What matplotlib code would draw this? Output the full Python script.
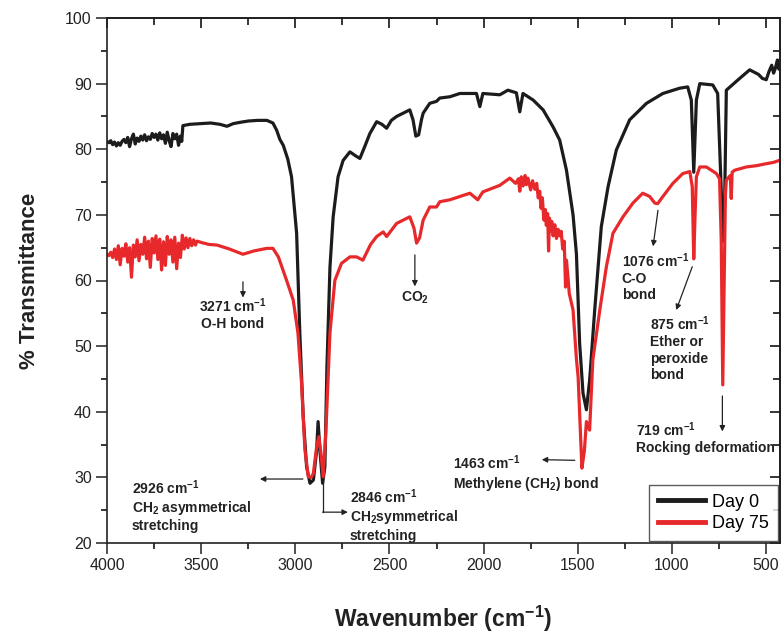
import matplotlib
matplotlib.use("Agg")
import matplotlib.pyplot as plt
from matplotlib.ticker import MultipleLocator

plt.rcParams['font.family'] = ['Liberation Sans', 'DejaVu Sans']
plt.rcParams['mathtext.fontset'] = 'custom'
plt.rcParams['mathtext.rm'] = 'Liberation Sans'
plt.rcParams['mathtext.it'] = 'Liberation Sans:italic'
plt.rcParams['mathtext.bf'] = 'Liberation Sans:bold'
plt.rcParams['mathtext.default'] = 'regular'

# ---------------- data ----------------
wn_day0 = [4000, 3990, 3980, 3970, 3960, 3950, 3940, 3930, 3920, 3910, 3900, 3890,
           3880, 3870, 3860, 3850, 3840, 3830, 3820, 3810, 3800, 3790, 3780, 3770,
           3760, 3750, 3740, 3730, 3720, 3710, 3700, 3690, 3680, 3670, 3660, 3650,
           3640, 3630, 3620, 3610, 3603, 3597, 3560, 3500,
           3450, 3400, 3363, 3330, 3294, 3250, 3200, 3151, 3119, 3099, 3082, 3064,
           3040, 3020, 2993, 2976, 2958, 2940, 2922, 2904, 2887, 2879, 2869, 2855,
           2843, 2832, 2816, 2799, 2773, 2746, 2710, 2680, 2657, 2630, 2604, 2568,
           2540, 2515, 2490, 2462, 2420, 2392, 2375, 2360, 2345, 2330, 2321, 2286,
           2250, 2233, 2179, 2126, 2038, 2020, 2004, 1914, 1871, 1826, 1808, 1791,
           1737, 1684, 1631, 1596, 1560, 1525, 1507, 1490, 1472, 1454, 1437, 1410,
           1375, 1339, 1295, 1224, 1135, 1048, 959, 916, 897, 884, 870, 852, 783,
           757, 737, 728, 720, 711, 640, 587, 540, 520, 499, 485, 470, 460, 450,
           440, 432, 426]
t_day0 = [81.2, 81.0, 81.3, 80.7, 81.1, 80.5, 81.0, 80.6, 81.2, 81.5, 81.0, 81.8,
          80.4, 81.6, 82.3, 80.8, 81.7, 81.2, 82.0, 81.4, 82.2, 81.3, 81.9, 81.5,
          82.4, 81.8, 82.3, 81.4, 82.5, 81.6, 82.2, 80.9, 82.6, 81.3, 80.4, 82.4,
          81.6, 82.3, 80.6, 82.0, 81.2, 83.6, 83.8, 83.9,
          84.0, 83.8, 83.5, 83.9, 84.1, 84.3, 84.4, 84.4, 84.0, 82.9, 81.5, 80.6,
          78.5, 75.8, 67.2, 52.0, 39.2, 31.6, 29.1, 29.6, 34.0, 38.5, 34.0, 29.1,
          31.6, 46.9, 62.0, 69.7, 75.8, 78.3, 79.6, 79.0, 78.6, 80.5, 82.4, 84.2,
          83.8, 83.2, 84.4, 85.0, 85.6, 86.0, 84.5, 82.0, 82.2, 84.5, 85.5, 87.0,
          87.3, 87.8, 88.0, 88.5, 88.5, 86.5, 88.5, 88.3, 89.0, 88.6, 85.7, 88.5,
          87.5, 86.0, 83.4, 81.4, 76.8, 70.0, 64.0, 50.4, 42.8, 40.3, 44.8, 55.5,
          68.2, 74.3, 79.9, 84.5, 87.0, 88.5, 89.3, 89.5, 87.5, 76.5, 87.5, 90.0, 89.8,
          88.5, 73.0, 66.0, 72.0, 89.0, 90.8, 92.1, 91.4, 90.8, 90.6, 91.8, 92.8, 91.6, 92.4,
          93.6, 92.2, 93.4]

wn_day75 = [4000, 3990, 3980, 3970, 3960, 3950, 3940, 3930, 3920, 3910, 3900, 3890,
            3880, 3870, 3860, 3850, 3840, 3830, 3820, 3810, 3800, 3790, 3780, 3770,
            3760, 3750, 3740, 3730, 3720, 3710, 3700, 3690, 3680, 3670, 3660, 3650,
            3640, 3630, 3620, 3610, 3600, 3590, 3580, 3570, 3560, 3550, 3540, 3530,
            3522, 3500,
            3460, 3416, 3350, 3278, 3220, 3151, 3119, 3090, 3046, 3011, 2986, 2967,
            2949, 2931, 2915, 2904, 2887, 2875, 2864, 2852, 2838, 2816, 2790, 2755,
            2710, 2675, 2641, 2600, 2568, 2533, 2515, 2462, 2392, 2370, 2356, 2340,
            2321, 2286, 2250, 2233, 2179, 2126, 2073, 2031, 2004, 1914, 1861, 1830,
            1815, 1808, 1800, 1790, 1780, 1773, 1765, 1750, 1740, 1728, 1718, 1710,
            1702, 1695, 1688, 1680, 1672, 1667, 1660, 1655, 1650, 1645, 1638, 1631,
            1622, 1613, 1605, 1596, 1588, 1580, 1572, 1565, 1560, 1552, 1545, 1525,
            1507, 1498, 1485, 1478,
            1465, 1454, 1437, 1420, 1383, 1348, 1313, 1260, 1207, 1155, 1118, 1091,
            1076, 1048, 995, 942, 905, 892, 884, 877, 870, 852, 817, 764, 747, 738,
            730, 722, 716, 711, 690, 685, 680, 667, 605, 550, 499, 460, 420]
t_day75 = [64.0, 63.8, 64.3, 63.5, 64.8, 63.2, 65.3, 62.4, 64.9, 63.7, 65.6, 62.8,
           65.0, 60.5, 65.4, 63.6, 66.2, 63.0, 65.5, 64.0, 66.6, 63.3, 66.0, 62.0,
           66.4, 64.2, 66.8, 63.2, 66.3, 61.6, 65.9, 62.3, 66.7, 64.0, 66.2, 62.8,
           66.6, 61.8, 65.7, 63.5, 66.9, 64.8, 66.5, 65.0, 66.4, 65.3, 66.2, 65.4,
           66.0, 65.8,
           65.5, 65.4, 64.8, 64.0, 64.5, 64.9, 64.9, 63.6, 60.0, 57.0, 52.0, 44.4,
           34.2, 30.1, 30.0, 30.6, 34.6, 36.2, 33.7, 30.1, 36.7, 52.0, 60.0, 62.6,
           63.6, 63.6, 63.1, 65.5, 66.7, 67.4, 66.7, 68.7, 69.7, 68.0, 65.7, 66.5,
           69.2, 71.2, 71.2, 72.0, 72.3, 72.8, 73.3, 72.3, 73.5, 74.5, 75.6, 74.8,
           75.5, 73.6, 75.8, 74.4, 76.0, 74.6, 75.6, 73.8, 75.2, 73.9, 74.8, 72.6,
           73.6, 71.0, 72.6, 69.2, 70.8, 68.4, 70.2, 64.5, 69.5, 67.5, 69.0, 66.8,
           68.5, 66.4, 67.8, 66.8, 67.5, 64.8, 66.0, 59.0, 63.1, 60.5, 58.0, 55.5,
           48.0, 45.3, 36.0, 31.4,
           34.0, 38.5, 37.2, 47.9, 55.5, 62.1, 67.2, 69.7, 71.8, 73.3, 72.8, 71.8,
           71.7, 72.8, 74.8, 76.3, 76.6, 74.3, 63.3, 70.0, 75.8, 77.3, 77.3, 76.3, 75.5, 66.0,
           44.1, 60.0, 73.0, 75.3, 76.0, 72.5, 76.5, 76.8, 77.3, 77.5, 77.8, 78.0, 78.4]

series_labels = ['Day 0', 'Day 75']
x_ticks = [4000, 3500, 3000, 2500, 2000, 1500, 1000, 500]
y_ticks = [20, 30, 40, 50, 60, 70, 80, 90, 100]

# annotations: (text, text_x, text_y, arrow_start, arrow_end, ha)
annotations = [
    ('3271 cm$^{-1}$\nO-H bond', 3331, 57.6, (3278, 59.8), (3278, 57.4), 'center'),
    ('CO$_2$', 2365, 58.6, (2365, 63.9), (2365, 59.1), 'center'),
    ('2926 cm$^{-1}$\nCH$_2$ asymmetrical\nstretching', 3867, 29.9, (2960, 29.75), (3188, 29.75), 'left'),
    ('2846 cm$^{-1}$\nCH$_2$symmetrical\nstretching', 2712, 28.5, (2855, 24.7), (2721, 24.7), 'left'),
    ('1463 cm$^{-1}$\nMethylene (CH$_2$) bond', 2165, 33.6, (1516, 32.6), (1691, 32.7), 'left'),
    ('1076 cm$^{-1}$\nC-O\nbond', 1267, 64.5, (1074, 70.7), (1100, 65.2), 'left'),
    ('875 cm$^{-1}$\nEther or\nperoxide\nbond', 1118, 54.8, (892, 62.1), (977, 55.5), 'left'),
    ('719 cm$^{-1}$\nRocking deformation', 1190, 38.7, (732, 42.4), (732, 37.0), 'left'),
]
elbow_2846 = ([2855, 2855], [29.3, 24.7])

# ---------------- figure ----------------
fig = plt.figure(figsize=(7.83, 6.40), dpi=100)
ax = fig.add_axes([107 / 783, 1 - 543 / 640, 673 / 783, 525 / 640])

c0 = '#1c1c1c'
c75 = '#e8292b'
ax.plot(wn_day0, t_day0, color=c0, lw=2.3, label=series_labels[0], solid_joinstyle='round')
ax.plot(wn_day75, t_day75, color=c75, lw=2.3, label=series_labels[1], solid_joinstyle='round')

ax.set_xlim(4000, 426)
ax.set_ylim(20, 100)
ax.set_xticks(x_ticks)
ax.set_yticks(y_ticks)
ax.xaxis.set_minor_locator(MultipleLocator(250))
ax.yaxis.set_minor_locator(MultipleLocator(5))
ax.tick_params(which='major', direction='out', length=8, width=1.1, labelsize=11.5,
               colors='#222222', pad=3)
ax.tick_params(which='minor', direction='out', length=4.5, width=1.1)

for s in ax.spines.values():
    s.set_linewidth(1.2)
    s.set_color('#222222')

# mirrored inward ticks on top and right
sx = ax.secondary_xaxis('top')
sx.set_xticks(x_ticks)
sx.xaxis.set_minor_locator(MultipleLocator(250))
sx.tick_params(which='major', direction='in', length=7, width=1.1, labeltop=False)
sx.tick_params(which='minor', direction='in', length=5, width=1.1)
sx.spines['top'].set_linewidth(1.2)
sy = ax.secondary_yaxis('right')
sy.set_yticks(y_ticks)
sy.yaxis.set_minor_locator(MultipleLocator(5))
sy.tick_params(which='major', direction='in', length=7, width=1.1, labelright=False)
sy.tick_params(which='minor', direction='in', length=5, width=1.1)
sy.spines['right'].set_linewidth(1.2)

ax.set_xlabel('Wavenumber (cm$^{-1}$)', fontsize=16.5, fontweight='bold', color='#222222', labelpad=22)
ax.set_ylabel('% Transmittance', fontsize=16, fontweight='bold', color='#222222', labelpad=18)

txt_kw = dict(fontsize=10, fontweight='bold', color='#222222', linespacing=1.2, va='top')
arrow_kw = dict(arrowstyle='-|>', lw=0.9, color='#222222', mutation_scale=8, shrinkA=0, shrinkB=0)
for text, tx, ty, a0, a1, ha in annotations:
    ax.text(tx, ty, text, ha=ha, **txt_kw)
    ax.annotate('', xy=a1, xytext=a0, arrowprops=arrow_kw)
ax.plot(elbow_2846[0], elbow_2846[1], color='#222222', lw=0.9)

leg = ax.legend(loc='lower right', fontsize=13, frameon=True, fancybox=False,
                borderaxespad=0.1, handlelength=2.6, handletextpad=0.4, borderpad=0.5,
                labelspacing=0.25)
leg.get_frame().set_edgecolor('#333333')
leg.get_frame().set_linewidth(1.0)
for l in leg.get_lines():
    l.set_linewidth(3.5)

fig.savefig('out.png', dpi=100)
